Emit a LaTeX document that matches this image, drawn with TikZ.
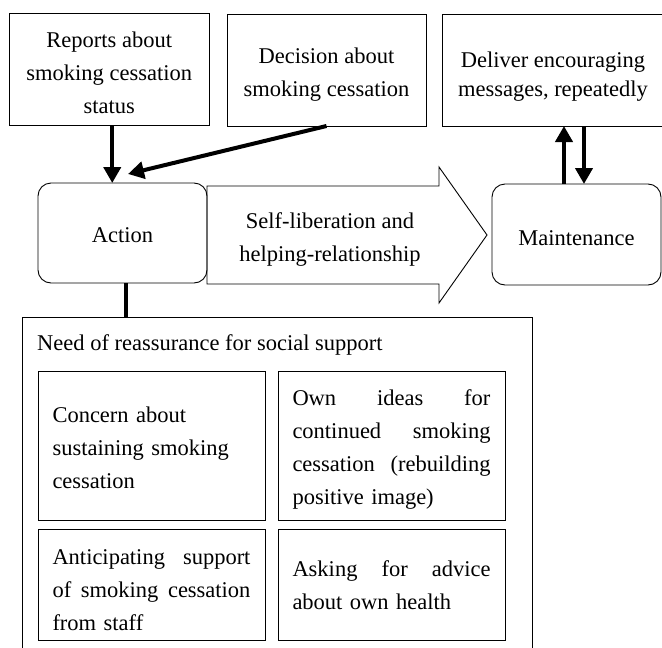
\documentclass[tikz,border=0pt]{standalone}
\usepackage{fontspec}
\setmainfont{Liberation Serif}
\usetikzlibrary{arrows.meta}
\newcommand\dfont{\fontsize{22.5pt}{33pt}\selectfont}
\newcommand\dfontb{\fontsize{22.5pt}{29pt}\selectfont}
\newcommand\dn[1]{\rule{0pt}{#1}}
\begin{document}
\begin{tikzpicture}[x=1pt,y=-1pt,
  box/.style={draw, line width=0.9pt, inner sep=0pt, outer sep=0pt, font=\dfont, align=center},
  rbox/.style={box, rounded corners=13pt},
  ibox/.style={box, text width=198pt, align=left},
  conn/.style={line width=4pt, -{Triangle[length=16pt,width=17pt]}},
  link/.style={line width=4pt}]
\useasboundingbox (0,0) rectangle (662,648);

% top boxes
\node[box, minimum width=199.5pt, minimum height=112pt] (rep) at (109.25,69) {\dn{23.5pt}Reports about\\smoking cessation\\status};
\node[box, minimum width=199pt, minimum height=112pt] (dec) at (326.5,70) {\dn{24.5pt}Decision about\\smoking cessation};
\node[box, font=\dfontb, minimum width=222pt, minimum height=112pt] (del) at (553,70) {\dn{29.5pt}Deliver encouraging\\messages, repeatedly};

% stage boxes
\node[rbox, minimum width=169pt, minimum height=100pt] (act) at (122.5,233) {\dn{19.5pt}Action};
\node[rbox, minimum width=169pt, minimum height=101pt] (mai) at (576.5,234.5) {\dn{21.5pt}Maintenance};

% big process arrow
\draw[line width=0.9pt] (207,186) -- (439,186) -- (439,167) -- (487,235) -- (439,303) -- (439,284) -- (207,284) -- cycle;
\node[font=\dfont, align=center, inner sep=0pt] (self) at (330,239.5) {Self-liberation and\\helping-relationship};

% outer box
\node[box, minimum width=510pt, minimum height=333pt, anchor=north west] (need) at (22,317) {};
\node[font=\dfont, anchor=base west, inner sep=0pt] (needt) at (37,350) {Need of reassurance for social support};

% inner boxes
\node[ibox, minimum width=227pt, minimum height=149pt] (c1) at (151.5,445.5) {\dn{20.5pt}Concern about\\sustaining smoking\\cessation};
\node[ibox, minimum width=227pt, minimum height=149pt] (c2) at (391.5,445.5) {\dn{23.5pt}Own\hfill ideas\hfill for\\continued\hfill smoking\\cessation\hfill (rebuilding\\positive image)};
\node[ibox, minimum width=227pt, minimum height=111pt] (c3) at (151.5,584.5) {\dn{27pt}Anticipating\hfill support\\of\hfill smoking\hfill cessation\\from staff};
\node[ibox, minimum width=227pt, minimum height=111pt] (c4) at (391.5,584.5) {\dn{17.5pt}Asking\hfill for\hfill advice\\about own health};

% connectors
\coordinate (dtip) at (128,174);
\draw[conn] ([xshift=3pt]rep.south) -- ([xshift=3pt]rep.south |- act.north);
\draw[conn] (dec.south) -- (dtip);
\draw[conn] ([xshift=-12.5pt]mai.north) -- ([xshift=-12.5pt]mai.north |- del.south);
\draw[conn] ([xshift=7.5pt]mai.north |- del.south) -- ([xshift=7.5pt]mai.north);
\draw[link] ([xshift=3.5pt]act.south) -- ([xshift=3.5pt]act.south |- need.north);
\end{tikzpicture}
\end{document}
